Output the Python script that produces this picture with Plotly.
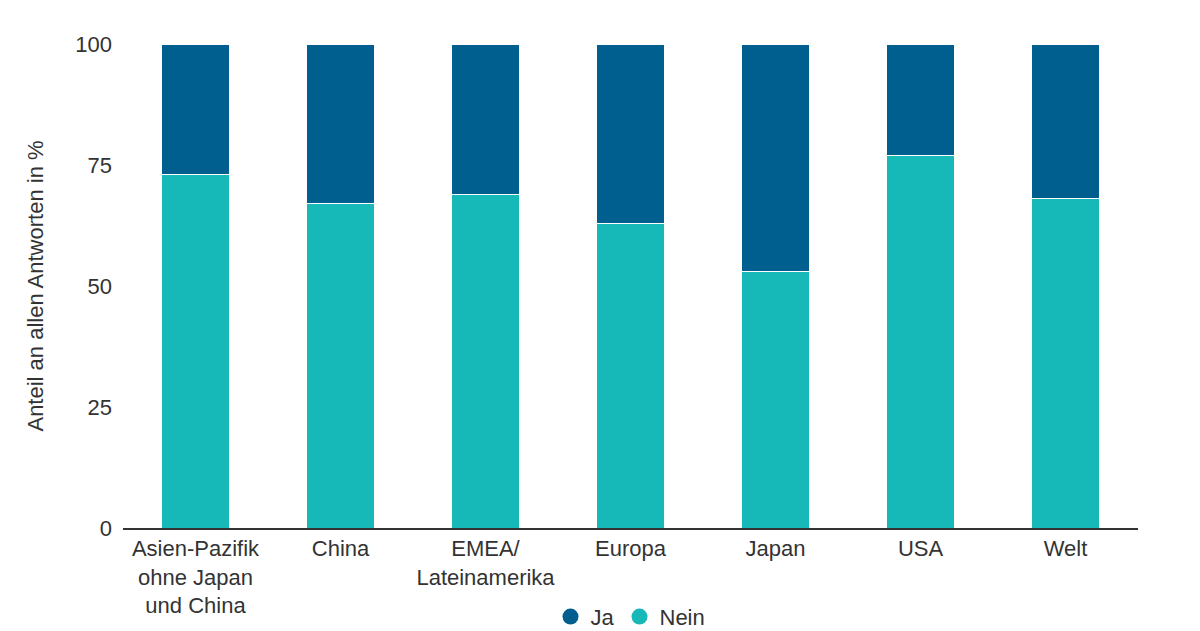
import plotly.graph_objects as go

categories = ["Asien-Pazifik<br>ohne Japan<br>und China", "China", "EMEA/<br>Lateinamerika", "Europa", "Japan", "USA", "Welt"]
nein = [73, 67, 69, 63, 53, 77, 68]
ja = [100 - v for v in nein]
tickvals = [0, 25, 50, 75, 100]

c_ja = "#005f8f"
c_nein = "#17b8b8"

fig = go.Figure()
fig.add_bar(x=categories, y=nein, marker=dict(color=c_nein, line=dict(color="white", width=1)), showlegend=False, width=0.47)
fig.add_bar(x=categories, y=ja, marker=dict(color=c_ja, line=dict(color="white", width=1)), showlegend=False, width=0.47)
fig.add_scatter(x=[None], y=[None], mode="markers", name="Ja", marker=dict(color=c_ja, size=22, symbol="circle"))
fig.add_scatter(x=[None], y=[None], mode="markers", name="Nein", marker=dict(color=c_nein, size=22, symbol="circle"))

fig.update_layout(
    barmode="stack",
    width=1200, height=631,
    paper_bgcolor="white", plot_bgcolor="white",
    font=dict(family="Liberation Sans, Arial, sans-serif", size=22, color="#333333"),
    margin=dict(l=115, r=70, t=36, b=111, autoexpand=False),
    legend=dict(orientation="h", x=0.5, xanchor="center", y=-0.14, yanchor="top",
                font=dict(size=22), traceorder="normal", itemwidth=30),
    bargap=0.5,
)
fig.update_yaxes(range=[0, 100], tickvals=tickvals, showgrid=False, zeroline=False,
                 title=dict(text="Anteil an allen Antworten in %", font=dict(size=22), standoff=25),
                 ticks="", ticklabelstandoff=10)
fig.update_xaxes(showline=True, linecolor="#333333", linewidth=1.5, ticks="", tickfont=dict(size=22))
fig.write_html("out.html")
